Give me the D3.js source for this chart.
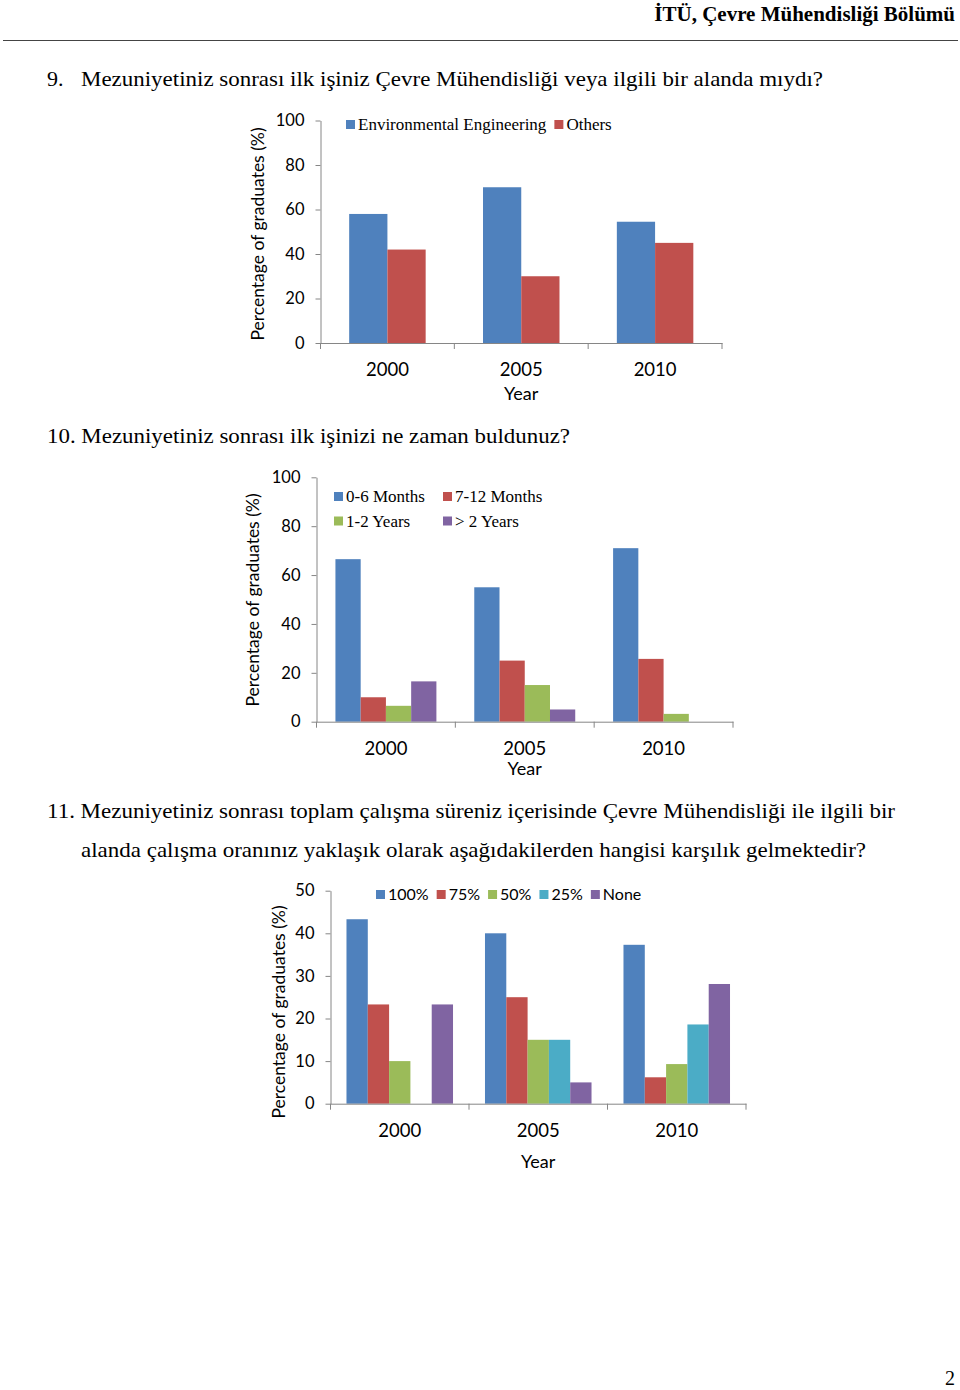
<!DOCTYPE html>
<html>
<head>
<meta charset="utf-8">
<script src="https://cdn.jsdelivr.net/npm/d3@7"></script>
<style>
  body { margin: 0; background: #fff; }
  svg { display: block; }
</style>
</head>
<body>
<script>
// Shared categories and ticks
const years = ["2000", "2005", "2010"];
const yTicks100 = [0, 20, 40, 60, 80, 100];
const yTicks50 = [0, 10, 20, 30, 40, 50];

// Question 9: first job in environmental engineering?
const q9Series = ["Environmental Engineering", "Others"];
const q9EnvEng = [58, 70, 54.5];
const q9Others = [42, 30, 45];

// Question 10: time to find first job
const q10Series = ["0-6 Months", "7-12 Months", "1-2 Years", "> 2 Years"];
const q10Months0to6 = [66.5, 55, 71];
const q10Months7to12 = [10, 25, 25.7];
const q10Years1to2 = [6.5, 15, 3.2];
const q10Over2Years = [16.5, 5, 0];

// Question 11: share of working time in the field
const q11Series = ["100%", "75%", "50%", "25%", "None"];
const q11Full = [43.3, 40, 37.3];
const q11ThreeQuarter = [23.3, 25, 6.2];
const q11Half = [10, 15, 9.3];
const q11Quarter = [0, 15, 18.6];
const q11None = [23.3, 5, 28.1];

// Office 2007 palette
const blue = "#4f81bd", red = "#c0504d", green = "#9bbb59", cyan = "#4bacc6", purple = "#8064a2";
const axisColor = "#868686";
const sans = "Lato, 'Open Sans', sans-serif";
const serif = "'Liberation Serif', 'Times New Roman', serif";

const svg = d3.select("body").append("svg")
  .attr("width", 960)
  .attr("height", 1390);

svg.append("rect").attr("width", 960).attr("height", 1390).attr("fill", "#fff");

// Page header
svg.append("text")
  .attr("x", 955).attr("y", 21)
  .attr("text-anchor", "end")
  .attr("font-family", serif)
  .attr("font-weight", "bold")
  .attr("font-size", 21)
  .text("İTÜ, Çevre Mühendisliği Bölümü");

svg.append("line")
  .attr("x1", 3).attr("x2", 958)
  .attr("y1", 40.5).attr("y2", 40.5)
  .attr("stroke", "#444").attr("stroke-width", 1);

// Question texts
function question(x, y, str, len) {
  svg.append("text")
    .attr("x", x).attr("y", y)
    .attr("font-family", serif)
    .attr("font-size", 22)
    .attr("textLength", len)
    .attr("lengthAdjust", "spacingAndGlyphs")
    .text(str);
}
svg.append("text").attr("x", 47).attr("y", 86)
  .attr("font-family", serif).attr("font-size", 22).text("9.");
question(81, 86, "Mezuniyetiniz sonrası ilk işiniz Çevre Mühendisliği veya ilgili bir alanda mıydı?", 742);
question(47, 443, "10. Mezuniyetiniz sonrası ilk işinizi ne zaman buldunuz?", 523);
question(47, 818, "11. Mezuniyetiniz sonrası toplam çalışma süreniz içerisinde Çevre Mühendisliği ile ilgili bir", 848);
question(81, 857, "alanda çalışma oranınız yaklaşık olarak aşağıdakilerden hangisi karşılık gelmektedir?", 785);

// Page number
svg.append("text")
  .attr("x", 955).attr("y", 1385)
  .attr("text-anchor", "end")
  .attr("font-family", serif)
  .attr("font-size", 20)
  .text("2");

// Grouped bar chart
function drawChart(opt) {
  const g = svg.append("g");

  const x0 = d3.scaleBand().domain(years).range([opt.left, opt.right]);
  const x1 = d3.scaleBand()
    .domain(opt.series)
    .range([0, x0.bandwidth()])
    .paddingInner(0)
    .paddingOuter(0.75);
  const y = d3.scaleLinear().domain([0, opt.yMax]).range([opt.bottom, opt.top]);

  // Bars
  opt.series.forEach((s, i) => {
    g.append("g")
      .selectAll("rect")
      .data(opt.values[i])
      .join("rect")
      .attr("x", (d, j) => x0(years[j]) + x1(s))
      .attr("y", (d) => y(d))
      .attr("width", x1.bandwidth())
      .attr("height", (d) => y(0) - y(d))
      .attr("fill", opt.colors[i]);
  });

  // Y axis
  const yAxis = g.append("g")
    .attr("transform", `translate(${opt.left},0)`)
    .call(d3.axisLeft(y).tickValues(opt.yTicks).tickSize(5).tickSizeOuter(0).tickPadding(11));
  yAxis.selectAll("line, path").attr("stroke", axisColor);
  yAxis.selectAll("text")
    .attr("font-family", sans)
    .attr("font-size", 16.5)
    .attr("fill", "#000");

  // X axis line with ticks between the categories
  const xAxis = g.append("g")
    .attr("transform", `translate(0,${opt.bottom})`)
    .call(d3.axisBottom(x0).tickSize(0).tickPadding(20));
  xAxis.select(".domain").attr("stroke", axisColor);
  xAxis.selectAll("text")
    .attr("font-family", sans)
    .attr("font-size", 18.5)
    .attr("fill", "#000");
  xAxis.selectAll(".sep")
    .data(years.map((d) => x0(d)).concat([opt.right]))
    .join("line")
    .attr("class", "sep")
    .attr("x1", (d) => d).attr("x2", (d) => d)
    .attr("y1", 0).attr("y2", 6)
    .attr("stroke", axisColor);

  // Axis titles
  g.append("text")
    .attr("x", (opt.left + opt.right) / 2)
    .attr("y", opt.yearY)
    .attr("text-anchor", "middle")
    .attr("font-family", sans)
    .attr("font-size", 18)
    .text("Year");

  g.append("text")
    .attr("transform", `translate(${opt.titleX},${opt.titleY}) rotate(-90)`)
    .attr("text-anchor", "middle")
    .attr("font-family", sans)
    .attr("font-size", 17.5)
    .text("Percentage of graduates (%)");

  // Legend
  const lg = opt.legend;
  let cx = lg.x;
  opt.series.forEach((s, i) => {
    let lx, ly;
    if (lg.cols) {
      lx = lg.x + (i % lg.cols) * lg.colWidth;
      ly = lg.y + Math.floor(i / lg.cols) * lg.rowHeight;
    } else {
      lx = cx;
      ly = lg.y;
    }
    g.append("rect")
      .attr("x", lx).attr("y", ly - 10)
      .attr("width", 9).attr("height", 9)
      .attr("fill", opt.colors[i]);
    const t = g.append("text")
      .attr("x", lx + 12).attr("y", ly)
      .attr("font-family", lg.font)
      .attr("font-size", lg.size)
      .text(s);
    cx = lx + 12 + t.node().getComputedTextLength() + 8;
  });
}

drawChart({
  series: q9Series,
  values: [q9EnvEng, q9Others],
  colors: [blue, red],
  yMax: 100, yTicks: yTicks100,
  left: 320.5, right: 722, top: 120.5, bottom: 343,
  yearY: 400, titleX: 264, titleY: 234,
  legend: { x: 346, y: 130, font: serif, size: 17 }
});

drawChart({
  series: q10Series,
  values: [q10Months0to6, q10Months7to12, q10Years1to2, q10Over2Years],
  colors: [blue, red, green, purple],
  yMax: 100, yTicks: yTicks100,
  left: 316.5, right: 733, top: 477.3, bottom: 721.7,
  yearY: 775, titleX: 258.5, titleY: 600,
  legend: { x: 334, y: 502, font: serif, size: 17, cols: 2, colWidth: 109, rowHeight: 24.5 }
});

drawChart({
  series: q11Series,
  values: [q11Full, q11ThreeQuarter, q11Half, q11Quarter, q11None],
  colors: [blue, red, green, cyan, purple],
  yMax: 50, yTicks: yTicks50,
  left: 330.5, right: 746, top: 890.7, bottom: 1103.7,
  yearY: 1168, titleX: 285, titleY: 1012,
  legend: { x: 376, y: 900, font: sans, size: 16 }
});
</script>
</body>
</html>
